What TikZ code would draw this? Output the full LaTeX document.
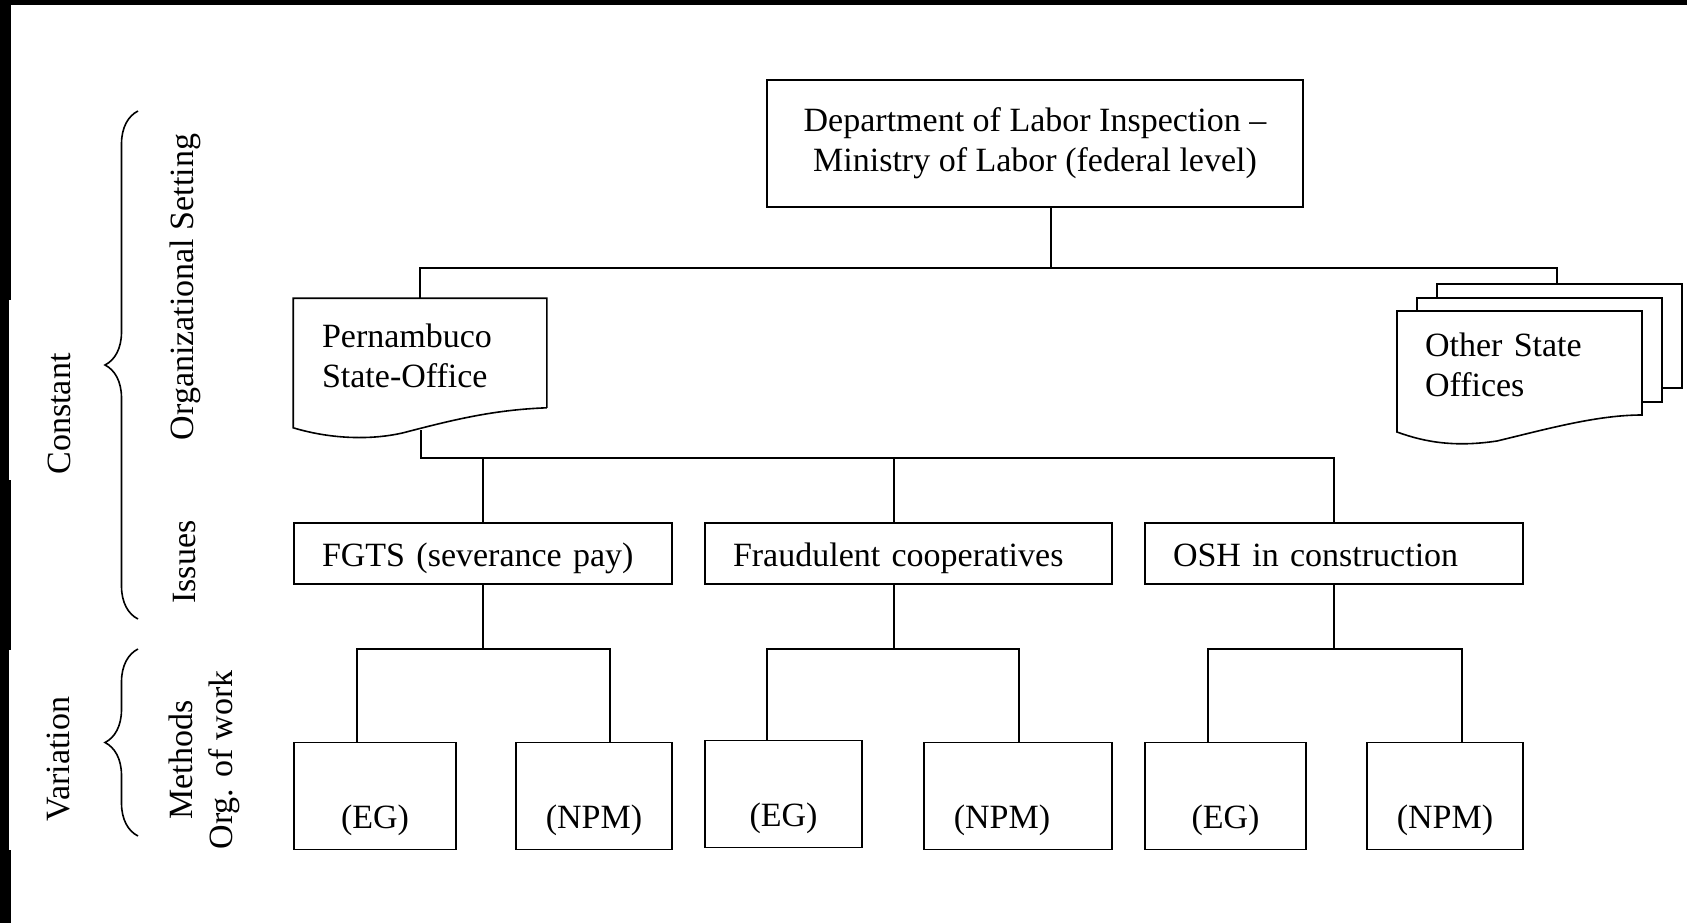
\documentclass[tikz,border=0pt]{standalone}
\usepackage{fontspec}
\setmainfont{Liberation Serif}
\usetikzlibrary{decorations.pathreplacing}
\usetikzlibrary{calc}

\tikzset{
	box/.style={draw, rectangle, inner sep=0pt, align=center},
	doc/.style={inner xsep=28pt, inner ysep=0pt, align=left},
	issue/.style={draw, minimum height=61pt, text height=33pt, text depth=8pt, inner xsep=28pt, inner ysep=0pt, align=left},
	method/.style={draw, text height=74pt, text depth=9pt, inner ysep=12pt, inner xsep=0pt},
	side/.style={rotate=90, inner sep=0pt},
	pagebox/.style={draw, fill=white}
}

\begin{document}
\begin{tikzpicture}[x=1pt, y=-1pt, line width=1.6pt, font=\fontsize{34}{40}\selectfont]
		\useasboundingbox (0,0) rectangle (1687,923);
		\fill[black] (0,0) rectangle (1687,5);
		\fill[black] (0,0) rectangle (9,923);
		\fill[black] (9,0) rectangle (11,300);
		\fill[black] (9,480) rectangle (11,650);
		\fill[black] (9,850) rectangle (11,923);
		
		\node[box, minimum width=536pt, minimum height=127pt] (dept) at (1035,143.5) {Department of Labor Inspection –\\Ministry of Labor (federal level)};
		
		\node[doc, minimum width=252pt, minimum height=108pt, text width=196pt] (pern) at (420,353) {};
		\node[doc, text width=196pt] (perntxt) at (420,356) {Pernambuco\\State-Office};
		\draw (pern.south east) -- (pern.north east) -- (pern.north west) -- ($(pern.south west)+(0,20)$)
			.. controls ($(pern.south west)+(40,32)$) and ($(pern.south west)+(80,32)$) .. ($(pern.south west)+(110,25)$)
			.. controls ($(pern.south west)+(160,12)$) and ($(pern.south west)+(200,2)$) .. (pern.south east);
		
		\coordinate (osNW) at (1397,311);
		\coordinate (osSE) at (1642,415);
		\draw[pagebox] ($(osNW)+(40,-27)$) rectangle ($(osSE)+(40,-27)$);
		\draw[pagebox] ($(osNW)+(20,-13)$) rectangle ($(osSE)+(20,-13)$);
		\draw[pagebox] (osSE) -- (osSE |- osNW) -- (osNW) -- ($(osNW |- osSE)+(0,17)$)
			.. controls ($(osNW |- osSE)+(30,28)$) and ($(osNW |- osSE)+(60,32)$) .. ($(osNW |- osSE)+(100,26)$)
			.. controls ($(osNW |- osSE)+(150,14)$) and ($(osNW |- osSE)+(200,0)$) .. (osSE) -- cycle;
		\node[doc, text width=189pt] (oso) at ($(osNW)!0.5!(osSE)+(0,2)$) {Other State\\Offices};
		
		\node[issue, text width=322pt] (fgts) at (483,553.5) {FGTS (severance pay)};
		\node[issue, text width=351pt] (fraud) at (908.5,553.5) {Fraudulent cooperatives};
		\node[issue, text width=322pt] (osh) at (1334,553.5) {OSH in construction};
		
		\node[method, minimum width=162pt] (fEG) at (375,796) {(EG)};
		\node[method, minimum width=156pt] (fNPM) at (594,796) {(NPM)};
		\node[method, minimum width=157pt] (cEG) at (783.5,794) {(EG)};
		\node[method, minimum width=188pt] (cNPM) at (1018,796) {(NPM)\hspace*{32pt}};
		\node[method, minimum width=161pt] (oEG) at (1225.5,796) {(EG)};
		\node[method, minimum width=156pt] (oNPM) at (1445,796) {(NPM)};
		
		\coordinate (b1) at (1051,268);
		\coordinate (b1R) at (1557,268);
		\coordinate (os3) at (1557,284);
		\draw (dept.south -| b1) -- (b1);
		\draw (pern.north) |- (b1R) -- (os3);
		
		\coordinate (pbot) at (421,430);
		\coordinate (b2) at (421,458);
		\coordinate (b2c) at (894,458);
		\draw (pbot) -- (b2) -| (osh.north);
		\draw (fgts.north) -- (fgts.north |- b2);
		\draw (b2c) -- (b2c |- fraud.north);
		
		\coordinate (fL) at (357,649);
		\coordinate (fR) at (610,649);
		\coordinate (cL) at (767,649);
		\coordinate (cR) at (1019,649);
		\coordinate (oL) at (1208,649);
		\coordinate (oR) at (1462,649);
		\draw (fgts.south) -- (fgts.south |- fL);
		\draw (fL |- fEG.north) -- (fL) -- (fR) -- (fR |- fNPM.north);
		\draw (b2c |- fraud.south) -- (b2c |- cL);
		\draw (cL |- cEG.north) -- (cL) -- (cR) -- (cR |- cNPM.north);
		\draw (osh.south) -- (osh.south |- oL);
		\draw (oL |- oEG.north) -- (oL) -- (oR) -- (oR |- oNPM.north);
		
		\draw[decorate, decoration={brace, amplitude=33pt}] (138,619) -- (138,111);
		\draw[decorate, decoration={brace, amplitude=33pt}] (138,836) -- (138,649);
		
		\node[side] (lconst) at (59,414) {Constant};
		\node[side] (lvar) at (59,759) {Variation};
		\node[side] (lorg) at (185,287) {Organizational Setting};
		\node[side] (liss) at (185,562) {Issues};
		\node[side, align=center] (lmeth) at (204,760) {Methods\\Org. of work};
	\end{tikzpicture}
\end{document}
